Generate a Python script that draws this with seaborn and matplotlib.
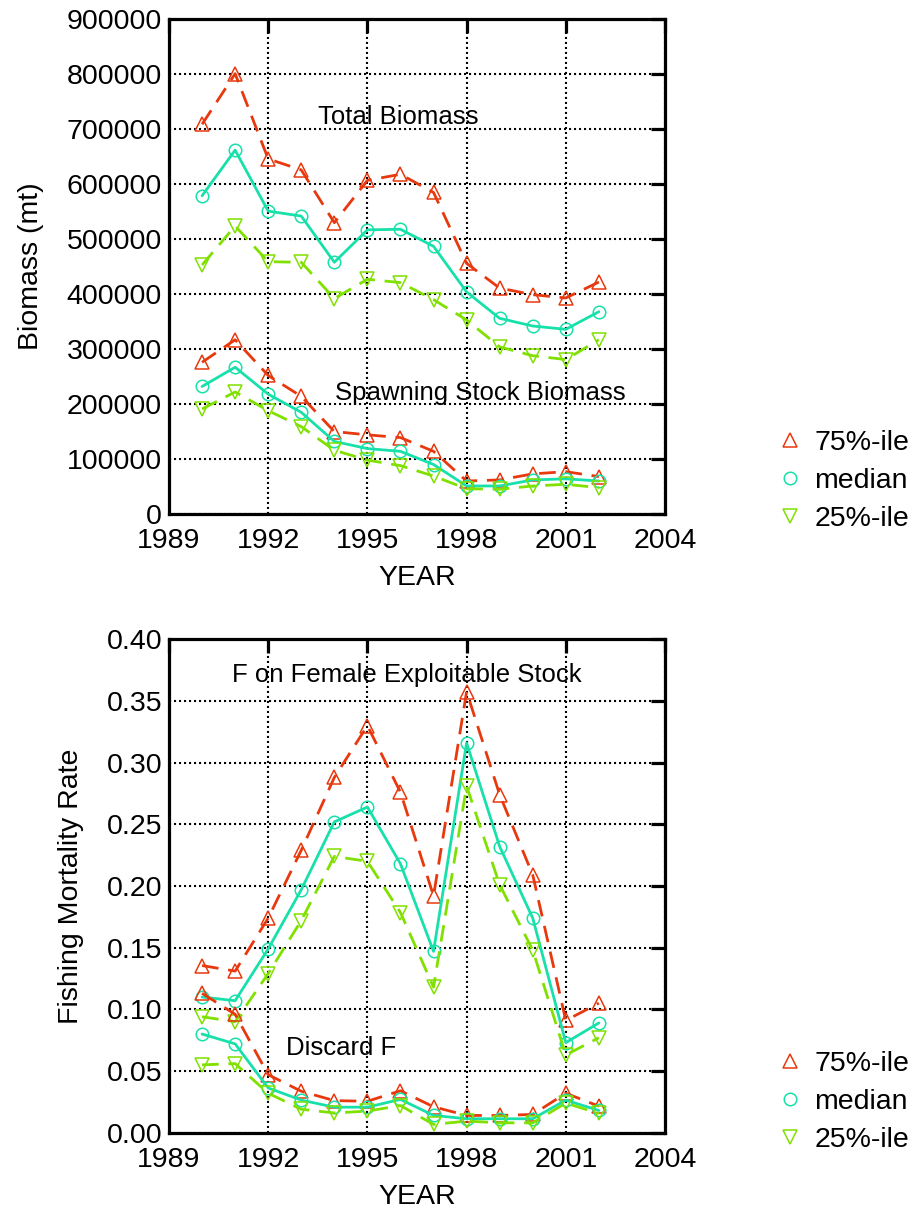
import numpy as np
import pandas as pd
import matplotlib
matplotlib.use("Agg")
import matplotlib.pyplot as plt
from matplotlib.lines import Line2D
import seaborn as sns

sns.set_style("white")
plt.rcParams['font.family'] = ['Liberation Sans', 'DejaVu Sans']
plt.rcParams['text.color'] = 'black'
plt.rcParams['axes.labelcolor'] = 'black'
plt.rcParams['xtick.color'] = 'black'
plt.rcParams['ytick.color'] = 'black'

years = [1990, 1991, 1992, 1993, 1994, 1995, 1996, 1997, 1998, 1999, 2000, 2001, 2002]

# Biomass (mt)
tb_75 = [709000, 801000, 646000, 626000, 530000, 607000, 618000, 585000, 456000, 411000, 399000, 393000, 422000]
tb_med = [579000, 662000, 551000, 542000, 458000, 517000, 518000, 487000, 404000, 356000, 342000, 336000, 368000]
tb_25 = [453000, 524000, 459000, 458000, 392000, 427000, 421000, 390000, 353000, 304000, 288000, 281000, 317000]
ssb_75 = [276000, 317000, 252000, 214000, 150000, 144000, 139000, 114000, 60000, 62000, 73000, 77000, 68000]
ssb_med = [232000, 267000, 218000, 185000, 132000, 119000, 114000, 90000, 51000, 51000, 62000, 64000, 60000]
ssb_25 = [191000, 222000, 188000, 159000, 116000, 98000, 88000, 69000, 46000, 45000, 51000, 54000, 48000]

# Fishing mortality
f_75 = [0.1355, 0.131, 0.174, 0.229, 0.288, 0.330, 0.276, 0.192, 0.3575, 0.274, 0.209, 0.091, 0.105]
f_med = [0.110, 0.107, 0.149, 0.197, 0.252, 0.264, 0.218, 0.147, 0.316, 0.232, 0.174, 0.073, 0.089]
f_25 = [0.094, 0.090, 0.129, 0.172, 0.224, 0.220, 0.1785, 0.118, 0.281, 0.201, 0.148, 0.063, 0.077]
df_75 = [0.113, 0.096, 0.047, 0.0336, 0.026, 0.0255, 0.034, 0.021, 0.014, 0.014, 0.0148, 0.032, 0.0215]
df_med = [0.080, 0.072, 0.0363, 0.0264, 0.0207, 0.0207, 0.027, 0.014, 0.0113, 0.0113, 0.0113, 0.0264, 0.018]
df_25 = [0.055, 0.056, 0.032, 0.019, 0.016, 0.0175, 0.022, 0.0067, 0.0094, 0.008, 0.008, 0.024, 0.0156]

legend_labels = ["75%-ile", "median", "25%-ile"]
x_ticks = [1989, 1992, 1995, 1998, 2001, 2004]
biomass_ticks = [0, 100000, 200000, 300000, 400000, 500000, 600000, 700000, 800000, 900000]
f_ticks = [0.00, 0.05, 0.10, 0.15, 0.20, 0.25, 0.30, 0.35, 0.40]

C75 = "#E8380E"
CMED = "#18E0AA"
C25 = "#80E000"
styles = {
    "75": dict(color=C75, marker="^", dashes=(6, 3.5), ms=10),
    "med": dict(color=CMED, marker="o", dashes=None, ms=9),
    "25": dict(color=C25, marker="v", dashes=(6, 3.5), ms=10),
}

W, H = 916, 1210
fig = plt.figure(figsize=(W / 100, H / 100), dpi=100)

def px_axes(left, top, right, bottom):
    return fig.add_axes([left / W, 1 - bottom / H, (right - left) / W, (bottom - top) / H])

ax1 = px_axes(169, 19.3, 665, 514)
ax2 = px_axes(169, 639.3, 665, 1132.7)

FS = 20.5
ANN = 18.5

def draw(ax, vals, key):
    st = styles[key]
    kw = dict(x=years, y=vals, ax=ax, color=st["color"], marker=st["marker"],
              markersize=st["ms"], markerfacecolor="none",
              markeredgecolor=st["color"], markeredgewidth=1.1,
              linewidth=2.0, errorbar=None, zorder=3)
    if st["dashes"] is not None:
        kw["dashes"] = st["dashes"]
    sns.lineplot(**kw)

for vals, key in [(tb_75, "75"), (tb_med, "med"), (tb_25, "25"),
                  (ssb_75, "75"), (ssb_med, "med"), (ssb_25, "25")]:
    draw(ax1, vals, key)
for vals, key in [(f_75, "75"), (f_med, "med"), (f_25, "25"),
                  (df_75, "75"), (df_med, "med"), (df_25, "25")]:
    draw(ax2, vals, key)

def style_axes(ax, yticks, ylim, yfmt):
    ax.set_xlim(1989, 2004)
    ax.set_xticks(x_ticks)
    ax.set_xticklabels([str(t) for t in x_ticks])
    ax.set_ylim(*ylim)
    ax.set_yticks(yticks)
    ax.set_yticklabels([yfmt(t) for t in yticks])
    ax.grid(True, color="black", linestyle=(0, (1, 1.4)), linewidth=1.5, zorder=1)
    ax.set_axisbelow(True)
    for s in ax.spines.values():
        s.set_linewidth(2.3)
        s.set_color("black")
        s.set_visible(True)
    ax.tick_params(axis="both", which="major", direction="in", length=10, width=2.3,
                   top=True, right=True, labelsize=FS, colors="black")
    ax.tick_params(axis="x", pad=10)
    ax.tick_params(axis="y", pad=5)
    ax.set_xlabel("YEAR", fontsize=FS, labelpad=8, color="black")

style_axes(ax1, biomass_ticks, (0, 900000), lambda t: f"{int(t)}")
style_axes(ax2, f_ticks, (0, 0.40), lambda t: f"{t:.2f}")

ax1.set_ylabel("Biomass (mt)", fontsize=FS, color="black")
ax1.yaxis.set_label_coords((44 - 169) / 496, 0.5)
ax2.set_ylabel("Fishing Mortality Rate", fontsize=FS, color="black")
ax2.yaxis.set_label_coords((84 - 169) / 496, 0.5)

ax1.text(1995.94, 722000, "Total Biomass", fontsize=ANN, ha="center", va="center", color="black")
ax1.text(1998.4, 220000, "Spawning Stock Biomass", fontsize=ANN, ha="center", va="center", color="black")
ax2.text(1996.2, 0.371, "F on Female Exploitable Stock", fontsize=ANN, ha="center", va="center", color="black")
ax2.text(1994.2, 0.0687, "Discard F", fontsize=ANN, ha="center", va="center", color="black")

def make_handles():
    hs = []
    for key in ["75", "med", "25"]:
        st = styles[key]
        hs.append(Line2D([0], [0], linestyle="none", marker=st["marker"], markersize=st["ms"],
                         markerfacecolor="none", markeredgecolor=st["color"], markeredgewidth=1.1))
    return hs

for top_px in (430, 1051):
    leg = fig.legend(make_handles(), legend_labels, loc="upper left",
                     bbox_to_anchor=(776 / W, 1 - top_px / H), frameon=False,
                     fontsize=FS, handlelength=1.0, handletextpad=0.35,
                     labelspacing=0.42, borderpad=0, borderaxespad=0)
    for t in leg.get_texts():
        t.set_color("black")

fig.savefig("out.png", dpi=100)
